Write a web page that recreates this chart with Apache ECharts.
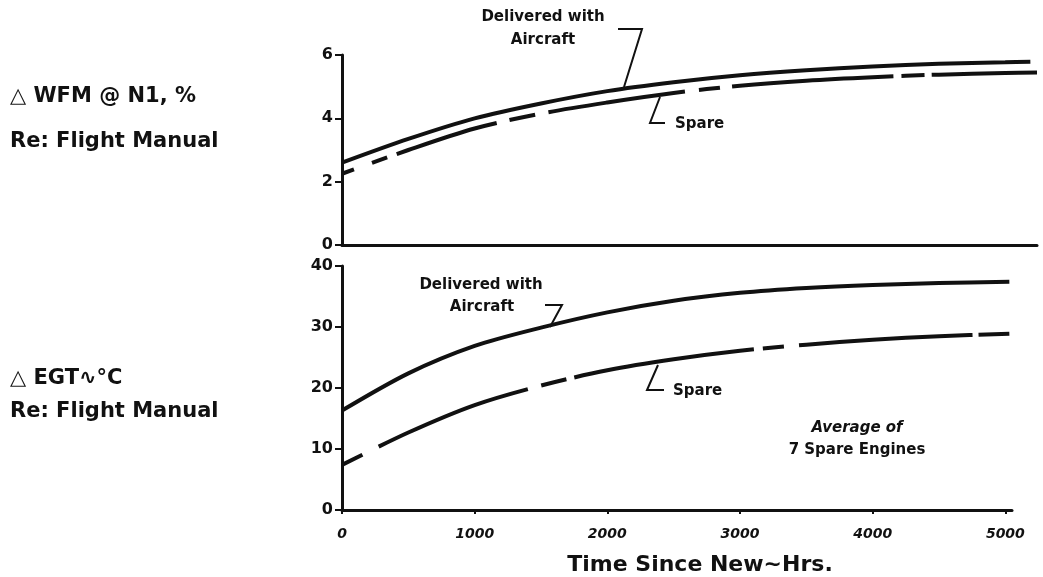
<!DOCTYPE html>
<html>
<head>
<meta charset="utf-8">
<script src="https://cdn.jsdelivr.net/npm/echarts@6/dist/echarts.min.js"></script>
<style>
  html, body { margin: 0; padding: 0; background: #fff; }
  #main { width: 1043px; height: 577px; }
</style>
</head>
<body>
<div id="main"></div>
<script>
// hours since new
var wfmHours = [0, 500, 1000, 1500, 2000, 2500, 3000, 3500, 4000, 4500, 5000];
var wfmDelivered = [2.6, 3.35, 4.0, 4.47, 4.86, 5.14, 5.36, 5.52, 5.64, 5.72, 5.77, 5.79];
var wfmSpare = [2.25, 3.0, 3.68, 4.15, 4.5, 4.8, 5.03, 5.19, 5.3, 5.38, 5.43, 5.45];
var wfmDeliveredEnd = 5190;
var wfmSpareEnd = 5240;

var egtHours = [0, 500, 1000, 1500, 2000, 2500, 3000, 3500, 4000, 4500, 5030];
var egtDelivered = [16.3, 22.4, 26.9, 29.9, 32.4, 34.3, 35.6, 36.4, 36.9, 37.2, 37.4];
var egtSpare = [7.4, 12.7, 17.2, 20.4, 22.9, 24.7, 26.1, 27.1, 27.9, 28.5, 28.9];

var hourTicks = [0, 1000, 2000, 3000, 4000, 5000];

function pairs(xs, ys) {
    return xs.map(function (x, i) { return [x, ys[i]]; });
}

var FONT = '"DejaVu Sans", "Liberation Sans", sans-serif';
var INK = '#111';

function yAxis(grid, max, step) {
    return {
        type: 'value', gridIndex: grid, min: 0, max: max, interval: step,
        axisLine: { show: true, lineStyle: { color: INK, width: 3 } },
        axisTick: { show: true, length: 7, lineStyle: { color: INK, width: 2 } },
        axisLabel: { color: INK, fontFamily: FONT, fontWeight: 'bold', fontSize: 16, margin: 9 },
        splitLine: { show: false }
    };
}

function text(str, x, y, size, opts) {
    opts = opts || {};
    return {
        type: 'text', silent: true,
        style: {
            text: str, x: x, y: y, fill: INK,
            font: (opts.italic ? 'italic ' : '') + 'bold ' + size + 'px ' + FONT,
            textAlign: opts.align || 'left', textVerticalAlign: 'middle'
        }
    };
}

function leader(points) {
    return {
        type: 'polyline', silent: true,
        shape: { points: points },
        style: { stroke: INK, lineWidth: 2, fill: null }
    };
}

function curve(name, xi, data, dash) {
    var ls = { color: INK, width: 4, cap: 'butt' };
    if (dash) ls.type = dash;
    return {
        name: name, type: 'line', xAxisIndex: xi, yAxisIndex: xi,
        smooth: 0.3, symbol: 'none',
        data: data, lineStyle: ls
    };
}

var chart = echarts.init(document.getElementById('main'));
chart.setOption({
    animation: false,
    backgroundColor: '#fff',
    grid: [
        { left: 342, top: 55, width: 695, height: 190 },
        { left: 342, top: 266, width: 670, height: 250 }
    ],
    xAxis: [
        {
            type: 'value', gridIndex: 0, min: 0, max: 5240,
            axisLine: { show: true, lineStyle: { color: INK, width: 3 } },
            axisTick: { show: false }, axisLabel: { show: false }, splitLine: { show: false }
        },
        {
            type: 'value', gridIndex: 1, min: 0, max: 5050,
            axisLine: { show: true, lineStyle: { color: INK, width: 3 } },
            axisTick: { show: true, length: 4, customValues: hourTicks, lineStyle: { color: INK, width: 2 } },
            axisLabel: {
                customValues: hourTicks, color: INK, fontFamily: FONT, fontWeight: 'bold',
                fontStyle: 'italic', fontSize: 14, margin: 17,
                formatter: function (v) { return String(v); }
            },
            splitLine: { show: false },
            name: 'Time Since New∼Hrs.', nameLocation: 'middle', nameGap: 44,
            nameTextStyle: { color: INK, fontFamily: FONT, fontWeight: 'bold', fontSize: 22, padding: [0, 0, 0, 46] }
        }
    ],
    yAxis: [yAxis(0, 6, 2), yAxis(1, 40, 10)],
    series: [
        curve('WFM Delivered', 0, pairs(wfmHours.concat([wfmDeliveredEnd]), wfmDelivered)),
        curve('WFM Spare', 0, pairs(wfmHours.concat([wfmSpareEnd]), wfmSpare),
            [13, 19, 16, 10, 105, 13, 26, 14, 138, 14, 21, 12, 162, 8, 23, 7, 200]),
        curve('EGT Delivered', 1, pairs(egtHours, egtDelivered)),
        curve('EGT Spare', 1, pairs(egtHours, egtSpare),
            [23, 18, 160, 14, 26, 8, 182, 9, 21, 15, 174, 6, 60])
    ],
    graphic: [
        text('△ WFM @ N1, %', 10, 97, 21),
        text('Re: Flight Manual', 10, 142, 21),
        text('△ EGT∿°C', 10, 379, 21),
        text('Re: Flight Manual', 10, 412, 21),

        text('Delivered with', 543, 17, 15, { align: 'center' }),
        text('Aircraft', 543, 40, 15, { align: 'center' }),
        leader([[618, 29], [642, 29], [624, 87]]),
        text('Spare', 675, 124, 15),
        leader([[660, 97], [650, 123], [665, 123]]),

        text('Delivered with', 481, 285, 15, { align: 'center' }),
        text('Aircraft', 482, 307, 15, { align: 'center' }),
        leader([[545, 305], [562, 305], [550, 327]]),
        text('Spare', 673, 391, 15),
        leader([[658, 365], [647, 390], [664, 390]]),

        text('Average of', 857, 428, 15, { align: 'center', italic: true }),
        text('7 Spare Engines', 857, 450, 15, { align: 'center' })
    ]
});
</script>
</body>
</html>
